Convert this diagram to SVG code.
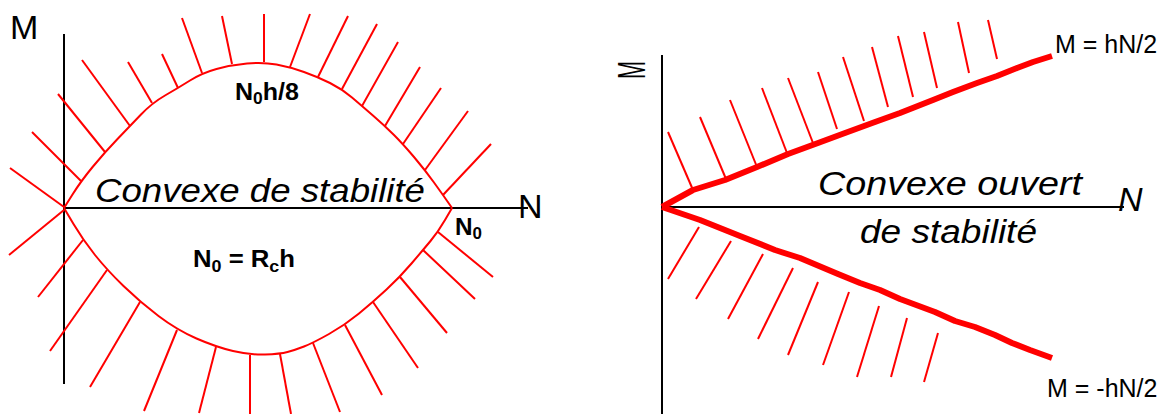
<svg xmlns="http://www.w3.org/2000/svg" width="1172" height="414" viewBox="0 0 1172 414">
<style>
.ax{stroke:#000;stroke-width:2;fill:none}
.cv{stroke:#f00;stroke-width:2;fill:none;stroke-linejoin:round}
.h line{stroke:#f00;stroke-width:2}
.thick{stroke:#f00;stroke-width:6;fill:none;stroke-linejoin:round;stroke-linecap:butt}
text{font-family:"Liberation Sans",Arial,sans-serif;fill:#000}
.b{font-weight:bold;font-size:23px}
.it{font-style:italic;font-size:33px}
.lg{font-size:34px}
.md{font-size:25px}
</style>
<rect width="1172" height="414" fill="#fff"/>
<g id="left-axes">
<line class="ax" x1="64" y1="34" x2="64" y2="384"/>
<line class="ax" x1="64" y1="208" x2="528" y2="208"/>
<text class="lg" x="10" y="39" font-size="35">M</text>
<text class="lg" x="518" y="218">N</text>
</g>
<g id="left-convex">
<path class="cv" d="M64,208 L72.5,194.5 Q81,181 93,166.5 Q105,152 117.5,139 Q130,126 141,114.5 Q152,103 165,95.5 Q178,88 190,80.5 Q202,73 216.5,69 Q231,65 247,63.5 Q263,62 276.5,64.5 Q290,67 304,72 Q318,77 330,83 Q342,89 352,97.5 Q362,106 373.5,116 Q385,126 394,135 Q403,144 414,157 Q425,170 434,182.5 Q443,195 447.5,201.5 L452,208"/>
<path class="cv" d="M64,208 L73.5,224 Q83,240 95,255 Q107,270 123.5,286 Q140,302 158.5,316 Q177,330 196.5,338.5 Q216,347 233,351 Q250,355 265,354.5 Q280,354 287.5,352 Q295,350 304,346.5 Q313,343 329,334 Q345,325 359,313.5 Q373,302 386.5,289.5 Q400,277 411.5,263.5 Q423,250 430.5,241 Q438,232 445,220 L452,208"/>
</g>
<g id="left-hatch" class="h">
<line x1="10" y1="168" x2="64" y2="207"/>
<line x1="32" y1="132" x2="81" y2="181"/>
<line x1="58" y1="94" x2="105" y2="152"/>
<line x1="82" y1="60" x2="130" y2="126"/>
<line x1="128" y1="62" x2="152" y2="103"/>
<line x1="162" y1="54" x2="178" y2="88"/>
<line x1="182" y1="18" x2="202" y2="73"/>
<line x1="222" y1="16" x2="232" y2="64"/>
<line x1="264" y1="14" x2="264" y2="62"/>
<line x1="310" y1="14" x2="290" y2="67"/>
<line x1="348" y1="16" x2="318" y2="77"/>
<line x1="377" y1="24" x2="342" y2="89"/>
<line x1="398" y1="42" x2="362" y2="106"/>
<line x1="420" y1="67" x2="385" y2="126"/>
<line x1="441" y1="88" x2="403" y2="144"/>
<line x1="468" y1="111" x2="425" y2="170"/>
<line x1="491" y1="144" x2="443" y2="195"/>
<line x1="9" y1="255" x2="64" y2="210"/>
<line x1="38" y1="297" x2="83" y2="240"/>
<line x1="50" y1="351" x2="107" y2="270"/>
<line x1="90" y1="387" x2="140" y2="302"/>
<line x1="144" y1="411" x2="177" y2="330"/>
<line x1="199" y1="413" x2="216" y2="347"/>
<line x1="250" y1="414" x2="250" y2="355"/>
<line x1="291" y1="414" x2="280" y2="354"/>
<line x1="340" y1="412" x2="313" y2="343"/>
<line x1="382" y1="395" x2="345" y2="325"/>
<line x1="418" y1="368" x2="373" y2="302"/>
<line x1="447" y1="333" x2="400" y2="277"/>
<line x1="475" y1="299" x2="423" y2="250"/>
<line x1="493" y1="277" x2="438" y2="232"/>
</g>
<g id="left-labels">
<text class="b" x="235" y="100" textLength="64" lengthAdjust="spacingAndGlyphs">N<tspan font-size="16" dy="4">0</tspan><tspan dy="-4">h/8</tspan></text>
<text class="it" x="95" y="202" textLength="330" lengthAdjust="spacingAndGlyphs">Convexe de stabilité</text>
<text class="b" x="193" y="267" textLength="102" lengthAdjust="spacingAndGlyphs">N<tspan font-size="16" dy="5">0</tspan><tspan dy="-5"> = R</tspan><tspan font-size="16" dy="5">c</tspan><tspan dy="-5">h</tspan></text>
<text class="b" x="455" y="235" textLength="27" lengthAdjust="spacingAndGlyphs">N<tspan font-size="16" dy="4">0</tspan></text>
</g>
<g id="right-axes">
<line class="ax" x1="662" y1="55" x2="662" y2="414"/>
<line class="ax" x1="662" y1="207" x2="1124" y2="207"/>
<text x="645" y="79" font-size="39" transform="rotate(-90 645 79)" textLength="18" lengthAdjust="spacingAndGlyphs">M</text>
<text class="lg" x="1118" y="211" font-style="italic">N</text>
</g>
<g id="right-bounds">
<polyline class="thick" points="662,207 693,190 725,180 757,167 788,154 818,143 845,133 875,122 900,113 933,100 953,92 977,83 997,76 1017,68 1033,62 1052,56"/>
<polyline class="thick" points="662,207 700,220 740,236 775,250 800,258 838,274 860,283 880,290 900,299 935,312 955,321 975,327 995,335 1012,343 1030,350 1052,358"/>
</g>
<g id="right-hatch" class="h">
<line x1="668" y1="132" x2="693" y2="190"/>
<line x1="700" y1="117" x2="726" y2="179"/>
<line x1="730" y1="100" x2="757" y2="167"/>
<line x1="762" y1="88" x2="787" y2="153"/>
<line x1="788" y1="78" x2="813" y2="143"/>
<line x1="818" y1="72" x2="837" y2="129"/>
<line x1="843" y1="57" x2="864" y2="121"/>
<line x1="872" y1="47" x2="888" y2="107"/>
<line x1="898" y1="36" x2="913" y2="97"/>
<line x1="924" y1="32" x2="937" y2="88"/>
<line x1="958" y1="22" x2="969" y2="73"/>
<line x1="988" y1="20" x2="997" y2="59"/>
<line x1="699" y1="227" x2="668" y2="279"/>
<line x1="731" y1="241" x2="696" y2="299"/>
<line x1="763" y1="254" x2="728" y2="319"/>
<line x1="793" y1="268" x2="758" y2="339"/>
<line x1="818" y1="282" x2="788" y2="355"/>
<line x1="849" y1="292" x2="823" y2="365"/>
<line x1="879" y1="306" x2="857" y2="377"/>
<line x1="907" y1="318" x2="891" y2="377"/>
<line x1="938" y1="333" x2="924" y2="382"/>
</g>
<g id="right-labels">
<text class="it" x="818" y="195" textLength="264" lengthAdjust="spacingAndGlyphs">Convexe ouvert</text>
<text class="it" x="860" y="243" textLength="177" lengthAdjust="spacingAndGlyphs">de stabilité</text>
<text class="md" x="1055" y="53">M = hN/2</text>
<text class="md" x="1047" y="397">M = -hN/2</text>
</g>
</svg>
